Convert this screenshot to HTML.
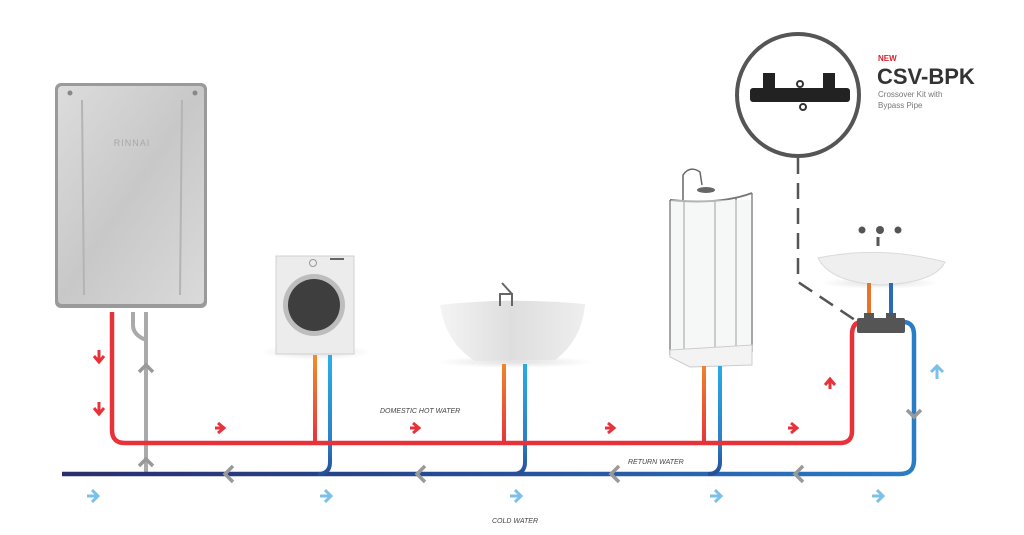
<!DOCTYPE html>
<html><head><meta charset="utf-8"><style>
html,body{margin:0;padding:0;background:#fff;}
svg{display:block;}
text{font-family:"Liberation Sans",sans-serif;}
</style></head><body>
<svg width="1024" height="535" viewBox="0 0 1024 535" xmlns="http://www.w3.org/2000/svg">
<defs>
<linearGradient id="heat" x1="0" x2="1" y1="0" y2="1"><stop offset="0" stop-color="#dcdcdc"/><stop offset="0.5" stop-color="#c8c8c8"/><stop offset="1" stop-color="#dadada"/></linearGradient>
<linearGradient id="ret" gradientUnits="userSpaceOnUse" x1="62" y1="0" x2="915" y2="0"><stop offset="0" stop-color="#2a2d6e"/><stop offset="0.5" stop-color="#254f96"/><stop offset="1" stop-color="#2b7cc6"/></linearGradient>
<linearGradient id="orv" gradientUnits="userSpaceOnUse" x1="0" y1="360" x2="0" y2="443"><stop offset="0" stop-color="#f08a2a"/><stop offset="1" stop-color="#e8323a"/></linearGradient>
<linearGradient id="blv" gradientUnits="userSpaceOnUse" x1="0" y1="360" x2="0" y2="474"><stop offset="0" stop-color="#28aee8"/><stop offset="0.7" stop-color="#2a80c8"/><stop offset="1" stop-color="#264f96"/></linearGradient>
<linearGradient id="tub" x1="0" x2="1"><stop offset="0" stop-color="#f4f4f4"/><stop offset="0.5" stop-color="#dedede"/><stop offset="1" stop-color="#eeeeee"/></linearGradient>
<radialGradient id="shad"><stop offset="0" stop-color="#000" stop-opacity="0.12"/><stop offset="1" stop-color="#000" stop-opacity="0"/></radialGradient>
</defs>

<!-- heater -->
<rect x="55" y="83" width="152" height="225" rx="6" fill="#9a9a9a"/>
<rect x="58" y="86" width="146" height="218" rx="4" fill="url(#heat)"/>
<line x1="82" y1="100" x2="84" y2="295" stroke="#b4b4b4" stroke-width="2"/>
<line x1="182" y1="100" x2="180" y2="295" stroke="#b4b4b4" stroke-width="2"/>
<circle cx="70" cy="93" r="2.5" fill="#888"/><circle cx="195" cy="93" r="2.5" fill="#888"/>
<text x="132" y="146" font-size="9" fill="#a8a8a8" text-anchor="middle" letter-spacing="1">RINNAI</text>

<!-- washer -->
<ellipse cx="316" cy="352" rx="55" ry="8" fill="url(#shad)"/>
<rect x="276" y="256" width="78" height="98" fill="#ececec" stroke="#d0d0d0"/>
<circle cx="314" cy="305" r="31" fill="#bdbdbd"/><circle cx="314" cy="305" r="26" fill="#3e3e3e"/>
<circle cx="313" cy="263" r="3.5" fill="none" stroke="#999"/>
<rect x="330" y="258" width="14" height="2" fill="#666"/>

<!-- bath -->
<ellipse cx="515" cy="362" rx="80" ry="6" fill="url(#shad)"/>
<path d="M440 305 Q510 297 585 304 Q582 340 555 360 L475 361 Q446 343 440 305Z" fill="url(#tub)"/>
<path d="M500 306 L500 294 L512 294 L512 306 M502 283 L512 294" stroke="#666" stroke-width="2" fill="none"/>

<!-- shower -->
<path d="M670 200 L670 355 M684 200 L684 352 M715 201 L715 350 M736 198 L736 350 M752 193 L752 352" stroke="#888" stroke-width="1.5"/>
<path d="M670 200 Q720 205 752 193" stroke="#777" stroke-width="2" fill="none"/>
<rect x="671" y="200" width="80" height="150" fill="#eef1f2" opacity="0.5"/>
<path d="M683 200 L683 175 Q690 165 700 172 L702 185" stroke="#666" stroke-width="1.5" fill="none"/>
<ellipse cx="706" cy="190" rx="9" ry="3" fill="#666"/>
<path d="M670 350 L752 345 L752 365 L690 367 L670 357Z" fill="#f3f3f3" stroke="#ccc"/>

<!-- sink -->
<ellipse cx="880" cy="283" rx="60" ry="6" fill="url(#shad)"/>
<path d="M818 258 Q880 245 945 262 Q935 283 880 285 Q830 282 818 258Z" fill="#efefef" stroke="#dadada"/>
<path d="M878 237 L878 246" stroke="#555" stroke-width="3"/>
<circle cx="862" cy="230" r="3.5" fill="#555"/><circle cx="880" cy="230" r="4" fill="#555"/><circle cx="898" cy="230" r="3.5" fill="#555"/>

<!-- callout -->
<circle cx="798" cy="95" r="61" fill="#fff" stroke="#555" stroke-width="4"/>
<rect x="750" y="88" width="100" height="14" rx="3" fill="#222"/>
<rect x="763" y="73" width="12" height="18" fill="#222"/><rect x="823" y="73" width="12" height="18" fill="#222"/>
<circle cx="800" cy="84" r="3" fill="none" stroke="#333" stroke-width="2"/>
<circle cx="803" cy="107" r="3" fill="none" stroke="#333" stroke-width="2"/>
<path d="M798 158 L798 282 L858 322" stroke="#555" stroke-width="2.5" stroke-dasharray="16 9" fill="none"/>
<text x="878" y="61" font-size="8" font-weight="bold" fill="#d6242f">NEW</text>
<text x="877" y="84" font-size="22" font-weight="bold" fill="#333">CSV-BPK</text>
<text x="878" y="97" font-size="8" fill="#777">Crossover Kit with</text>
<text x="878" y="108" font-size="8" fill="#777">Bypass Pipe</text>

<!-- pipes -->
<path d="M146 312 L146 474" stroke="#aaa" stroke-width="4" fill="none"/>
<path d="M133 312 L133 325 Q133 335 146 340" stroke="#aaa" stroke-width="4" fill="none"/>
<path d="M62 474 L900 474 Q914 474 914 460 L914 335 Q914 322 903 322" stroke="url(#ret)" stroke-width="4.5" fill="none"/>
<path d="M330 355 L330 462 Q330 474 318 474" stroke="url(#blv)" stroke-width="4" fill="none"/>
<path d="M525 364 L525 462 Q525 474 513 474" stroke="url(#blv)" stroke-width="4" fill="none"/>
<path d="M720 366 L720 462 Q720 474 708 474" stroke="url(#blv)" stroke-width="4" fill="none"/>
<path d="M315 355 L315 443" stroke="url(#orv)" stroke-width="4" fill="none"/>
<path d="M504 364 L504 443" stroke="url(#orv)" stroke-width="4" fill="none"/>
<path d="M704 366 L704 443" stroke="url(#orv)" stroke-width="4" fill="none"/>
<path d="M112 312 L112 430 Q112 443 125 443 L840 443 Q852 443 852 431 L852 335 Q852 322 862 322" stroke="#e8323a" stroke-width="4.5" fill="none"/>
<path d="M869 283 L869 318" stroke="#e8742a" stroke-width="4"/>
<path d="M891 283 L891 318" stroke="#2a6ab8" stroke-width="4"/>
<rect x="857" y="318" width="48" height="15" rx="2" fill="#555"/>
<rect x="864" y="313" width="10" height="7" fill="#555"/><rect x="886" y="313" width="10" height="7" fill="#555"/>

<!-- arrows -->
<g stroke="#e8323a" stroke-width="3" fill="none">
<path d="M94 356 l5 6 l5 -6 M99 350 v12"/><path d="M94 408 l5 6 l5 -6 M99 402 v12"/>
<path d="M218 423 l6 5 l-6 5 M215 428 h9"/><path d="M413 423 l6 5 l-6 5 M410 428 h9"/>
<path d="M608 423 l6 5 l-6 5 M605 428 h9"/><path d="M791 423 l6 5 l-6 5 M788 428 h9"/>
<path d="M825 385 l5 -6 l5 6 M830 379 v10"/>
</g>
<g stroke="#999" stroke-width="3.5" fill="none">
<path d="M139 372 l7 -7 l7 7"/><path d="M139 466 l7 -7 l7 7"/>
<path d="M233 466 l-8 8 l8 8"/><path d="M425 466 l-8 8 l8 8"/><path d="M619 466 l-8 8 l8 8"/><path d="M803 466 l-8 8 l8 8"/>
<path d="M907 410 l7 7 l7 -7"/>
</g>
<g stroke="#7cc0ea" stroke-width="3" fill="none">
<path d="M92 490 l6 6 l-6 6 M87 496 h11"/><path d="M325 490 l6 6 l-6 6 M320 496 h11"/>
<path d="M515 490 l6 6 l-6 6 M510 496 h11"/><path d="M715 490 l6 6 l-6 6 M710 496 h11"/>
<path d="M877 490 l6 6 l-6 6 M872 496 h11"/>
<path d="M931 372 l6 -6 l6 6 M937 366 v13"/>
</g>

<text x="380" y="413" font-size="7" font-style="italic" fill="#444">DOMESTIC HOT WATER</text>
<text x="628" y="464" font-size="7" font-style="italic" fill="#444">RETURN WATER</text>
<text x="492" y="523" font-size="7" font-style="italic" fill="#444">COLD WATER</text>
</svg>
</body></html>
